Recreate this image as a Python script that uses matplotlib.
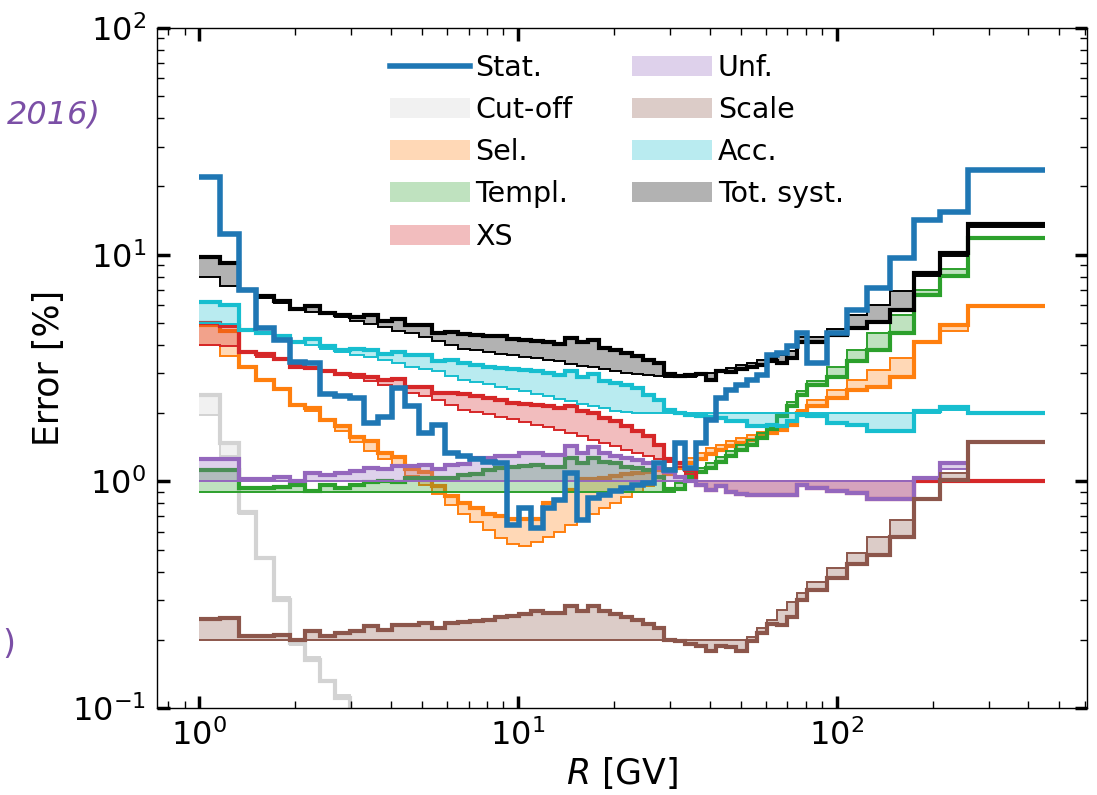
import matplotlib
matplotlib.use("Agg")
import matplotlib.pyplot as plt
from matplotlib.lines import Line2D
from matplotlib.patches import Patch
import numpy as np

# rigidity bin edges [GV]
edges = [1.00, 1.16, 1.33, 1.51, 1.71, 1.92, 2.15, 2.40, 2.67, 2.97, 3.29, 3.64,
         4.02, 4.43, 4.88, 5.37, 5.90, 6.47, 7.09, 7.76, 8.48, 9.26, 10.1, 11.0,
         12.0, 13.0, 14.1, 15.3, 16.6, 18.0, 19.5, 21.1, 22.8, 24.7, 26.7, 28.8,
         31.1, 33.5, 36.1, 38.9, 41.9, 45.1, 48.5, 52.2, 56.1, 60.3, 64.8, 69.7,
         74.9, 80.5, 93.0, 108, 125, 147, 175, 211, 259, 450]

stat = [22.1, 12.4, 7.0, 4.76, 4.22, 3.37, 3.34, 2.44, 2.39, 2.34,
        1.81, 1.93, 2.59, 2.14, 1.64, 1.78, 1.34, 1.29, 1.25, 1.22,
        1.21, 0.644, 0.763, 0.623, 0.763, 0.83, 1.09, 0.678, 0.845, 0.874,
        0.904, 0.935, 0.967, 0.98, 1.21, 1.12, 1.48, 1.15, 1.48, 1.87,
        2.33, 2.54, 2.67, 2.81, 2.95, 3.6, 3.68, 3.94, 4.51, 3.33,
        4.51, 5.72, 7.13, 9.67, 14.3, 15.5, 23.7]

# Cut-off: only the lowest bins are above 0.1 %
cutoff_a = [2.41, 1.47, 0.73, 0.46, 0.30, 0.194, 0.163, 0.132, 0.111, 0.08]
cutoff_b = [1.97, 1.30, 0.72, 0.46, 0.31, 0.19, 0.168, 0.13, 0.114, 0.08]

sel_a = [4.9, 4.62, 3.21, 2.81, 2.56, 2.18, 2.11, 1.87, 1.75, 1.57,
         1.5, 1.33, 1.28, 1.13, 1.1, 0.95, 0.86, 0.80, 0.76, 0.72,
         0.70, 0.68, 0.68, 0.68, 0.80, 0.83, 0.92, 1.02, 1.02, 1.03,
         1.06, 1.08, 1.09, 1.10, 1.12, 1.08, 1.14, 1.2, 1.26, 1.32,
         1.38, 1.43, 1.48, 1.53, 1.58, 1.64, 1.69, 1.78, 2.0, 2.14,
         2.33, 2.54, 2.6, 2.9, 4.1, 4.9, 5.96]
sel_b = [4.0, 3.56, 3.16, 2.78, 2.52, 2.15, 2.04, 1.84, 1.66, 1.49,
         1.36, 1.26, 1.18, 1.06, 0.96, 0.88, 0.79, 0.72, 0.66, 0.61,
         0.56, 0.53, 0.52, 0.54, 0.57, 0.60, 0.64, 0.68, 0.72, 0.76,
         0.80, 0.85, 0.90, 0.95, 1.0, 1.15, 1.2, 1.27, 1.33, 1.4,
         1.45, 1.5, 1.55, 1.6, 1.65, 1.7, 1.75, 1.85, 2.07, 2.29,
         2.54, 2.81, 3.11, 3.5, 4.1, 4.6, 5.9]

templ_a = [1.12, 1.12, 0.935, 0.935, 0.94, 0.96, 0.905, 0.96, 0.935, 0.96,
           0.99, 1.0, 0.99, 1.03, 1.04, 1.04, 1.03, 1.07, 1.08, 1.12,
           1.14, 1.16, 1.17, 1.18, 1.16, 1.16, 1.27, 1.2, 1.27, 1.22,
           1.2, 1.16, 1.14, 1.12, 1.05, 0.93, 0.93, 1.05, 1.1, 1.15,
           1.22, 1.3, 1.37, 1.45, 1.55, 1.7, 1.95, 2.15, 2.4, 2.67,
           2.90, 3.38, 3.81, 4.51, 6.65, 8.08, 11.9]
templ_b = [0.9, 0.9, 0.9, 0.9, 0.9, 0.9, 0.9, 0.9, 0.9, 0.9,
           0.9, 0.9, 0.9, 0.9, 0.9, 0.9, 0.9, 0.9, 0.9, 0.9,
           0.9, 0.9, 0.9, 0.9, 0.9, 0.9, 0.9, 0.9, 0.9, 0.9,
           0.9, 0.9, 0.9, 0.9, 0.9, 0.9, 0.98, 1.1, 1.15, 1.2,
           1.28, 1.36, 1.44, 1.53, 1.63, 1.8, 2.0, 2.25, 2.5, 2.76,
           3.21, 3.81, 4.51, 5.44, 7.0, 8.65, 11.7]

xs_a = [5.0, 4.83, 3.74, 3.66, 3.47, 3.21, 3.16, 3.06, 2.99, 2.96,
        2.9, 2.81, 2.83, 2.62, 2.62, 2.45, 2.45, 2.42, 2.38, 2.33,
        2.28, 2.22, 2.2, 2.17, 2.14, 2.1, 2.14, 2.04, 2.0, 1.9,
        1.84, 1.75, 1.66, 1.58, 1.45, 1.25, 1.2, 1.12, 0.96, 0.92,
        0.95, 0.9, 0.88, 0.87, 0.87, 0.87, 0.874, 0.874, 0.967, 0.935,
        0.904, 0.89, 0.837, 0.837, 1.0, 1.0, 1.0]
xs_b = [4.0, 3.94, 3.7, 3.55, 3.42, 3.3, 3.2, 3.1, 3.0, 2.86,
        2.76, 2.67, 2.56, 2.45, 2.37, 2.29, 2.17, 2.07, 2.03, 1.98,
        1.93, 1.88, 1.83, 1.78, 1.73, 1.68, 1.63, 1.58, 1.53, 1.48,
        1.43, 1.38, 1.34, 1.3, 1.26, 1.22, 1.16, 1.08, 1.0, 1.0,
        1.0, 1.0, 1.0, 1.0, 1.0, 1.0, 1.0, 1.0, 1.0, 1.0,
        1.0, 1.0, 1.0, 1.0, 1.0, 1.0, 1.0]

# Unf. stops one bin before the last edge
unf_a = [1.25, 1.26, 1.025, 1.025, 1.05, 1.0, 1.09, 1.07, 1.09, 1.11,
         1.15, 1.13, 1.165, 1.17, 1.185, 1.13, 1.185, 1.19, 1.27, 1.27,
         1.3, 1.3, 1.33, 1.33, 1.31, 1.31, 1.43, 1.33, 1.42, 1.33,
         1.3, 1.27, 1.24, 1.2, 1.15, 1.1, 1.05, 1.0, 0.96, 0.92,
         0.95, 0.9, 0.88, 0.87, 0.87, 0.87, 0.874, 0.874, 0.967, 0.935,
         0.904, 0.89, 0.837, 0.837, 1.04, 1.21]
unf_b = [1.0, 1.0, 1.0, 1.0, 1.0, 1.0, 1.0, 1.0, 1.0, 1.0,
         1.0, 1.0, 1.0, 1.0, 1.0, 1.0, 1.0, 1.0, 1.0, 1.0,
         1.0, 1.0, 1.0, 1.0, 1.0, 1.0, 1.0, 1.0, 1.0, 1.0,
         1.0, 1.0, 1.0, 1.0, 1.0, 1.0, 1.0, 1.0, 1.0, 1.0,
         1.0, 1.0, 1.0, 1.0, 1.0, 1.0, 1.0, 1.0, 1.0, 1.0,
         1.0, 1.0, 1.0, 1.0, 1.04, 1.13]

scale_a = [0.248, 0.25, 0.207, 0.207, 0.21, 0.2, 0.218, 0.207, 0.215, 0.218,
           0.229, 0.22, 0.232, 0.232, 0.237, 0.225, 0.237, 0.24, 0.241, 0.245,
           0.252, 0.255, 0.26, 0.267, 0.262, 0.262, 0.281, 0.267, 0.282, 0.267,
           0.26, 0.252, 0.245, 0.236, 0.226, 0.2, 0.197, 0.191, 0.188, 0.178,
           0.188, 0.185, 0.178, 0.197, 0.215, 0.235, 0.233, 0.253, 0.30, 0.333,
           0.376, 0.43, 0.475, 0.57, 0.838, 1.017, 1.49]
scale_b = [0.2, 0.2, 0.2, 0.2, 0.2, 0.2, 0.2, 0.2, 0.2, 0.2,
           0.2, 0.2, 0.2, 0.2, 0.2, 0.2, 0.2, 0.2, 0.2, 0.2,
           0.2, 0.2, 0.2, 0.2, 0.2, 0.2, 0.2, 0.2, 0.2, 0.2,
           0.2, 0.2, 0.2, 0.2, 0.2, 0.2, 0.2, 0.2, 0.2, 0.2,
           0.2, 0.2, 0.2, 0.205, 0.225, 0.245, 0.27, 0.295, 0.323, 0.358,
           0.416, 0.484, 0.57, 0.678, 0.838, 1.09, 1.49]

acc_a = [6.16, 6.0, 4.67, 4.51, 4.36, 4.10, 4.24, 3.94, 3.81, 3.84,
         3.81, 3.66, 3.74, 3.6, 3.6, 3.38, 3.44, 3.33, 3.27, 3.21,
         3.16, 3.12, 3.09, 3.06, 3.0, 2.96, 3.06, 2.9, 2.99, 2.77,
         2.72, 2.67, 2.58, 2.41, 2.29, 2.07, 2.0, 1.97, 1.94, 1.92,
         1.9, 1.84, 1.84, 1.75, 1.75, 1.77, 1.75, 1.84, 1.97, 1.94,
         1.81, 1.78, 1.66, 1.66, 2.04, 2.13, 2.0]
acc_b = [5.0, 4.95, 4.67, 4.45, 4.3, 4.1, 4.0, 3.85, 3.72, 3.62,
         3.52, 3.44, 3.32, 3.21, 3.13, 3.06, 2.93, 2.81, 2.75, 2.69,
         2.62, 2.56, 2.5, 2.44, 2.38, 2.32, 2.26, 2.2, 2.15, 2.1,
         2.05, 2.02, 2.0, 2.0, 2.0, 2.0, 2.0, 2.0, 2.0, 2.0,
         2.0, 2.0, 2.0, 2.0, 2.0, 2.0, 2.0, 2.0, 2.0, 2.0,
         2.0, 2.0, 2.0, 2.0, 2.0, 2.06, 2.0]

tot_a = [9.77, 9.19, 7.01, 6.59, 6.22, 5.76, 5.96, 5.53, 5.44, 5.29,
         5.40, 5.08, 5.2, 4.91, 4.88, 4.51, 4.58, 4.48, 4.44, 4.36,
         4.36, 4.25, 4.22, 4.15, 4.1, 4.05, 4.29, 4.1, 4.22, 3.88,
         3.81, 3.68, 3.58, 3.44, 3.33, 2.99, 2.93, 2.96, 2.99, 2.79,
         3.06, 3.03, 3.12, 3.2, 3.27, 3.38, 3.33, 3.50, 4.10, 4.10,
         4.44, 4.75, 5.03, 5.72, 8.3, 10.2, 13.7]
tot_b = [8.0, 7.3, 6.9, 6.45, 6.1, 5.75, 5.6, 5.45, 5.3, 5.1,
         4.95, 4.8, 4.6, 4.5, 4.35, 4.15, 4.0, 3.85, 3.78, 3.72,
         3.66, 3.6, 3.55, 3.5, 3.44, 3.38, 3.3, 3.24, 3.18, 3.12,
         3.07, 3.02, 2.98, 2.95, 2.92, 2.9, 2.88, 2.9, 2.95, 3.02,
         3.1, 3.17, 3.25, 3.33, 3.42, 3.5, 3.6, 3.75, 4.35, 4.35,
         4.7, 5.44, 5.97, 6.89, 8.02, 9.83, 13.2]

labels = ["Stat.", "Cut-off", "Sel.", "Templ.", "XS",
          "Unf.", "Scale", "Acc.", "Tot. syst."]

plt.rcParams['font.family'] = ['DejaVu Sans']
plt.rcParams['mathtext.fontset'] = 'dejavusans'

fig = plt.figure(figsize=(10.97, 7.95), dpi=100)
ax = fig.add_axes([0.1431, 0.1094, 0.8478, 0.8553])

LW_A = 3.0
LW_B = 1.4
LW_STAT = 4.0


def band(vals_a, vals_b, e, color):
    ax.stairs(vals_a, e, baseline=vals_b, fill=True, color=color, alpha=0.3,
              linewidth=0)
    ax.stairs(vals_b, e, baseline=None, color=color, lw=LW_B)
    ax.stairs(vals_a, e, baseline=None, color=color, lw=LW_A)


band(cutoff_a, cutoff_b, edges[:len(cutoff_a) + 1], 'lightgray')
band(sel_a, sel_b, edges, 'tab:orange')
band(templ_a, templ_b, edges, 'tab:green')
band(xs_a, xs_b, edges, 'tab:red')
band(unf_a, unf_b, edges[:len(unf_a) + 1], 'tab:purple')
band(scale_a, scale_b, edges, 'tab:brown')
band(acc_a, acc_b, edges, 'tab:cyan')
band(tot_a, tot_b, edges, 'black')
ax.stairs(stat, edges, baseline=None, color='tab:blue', lw=LW_STAT)

ax.set_xscale('log')
ax.set_yscale('log')
ax.set_ylim(0.1, 100)

ax.set_xlabel(r"$R$ [GV]", fontsize=25, labelpad=2)
ax.set_ylabel("Error [%]", fontsize=25, labelpad=4)
ax.tick_params(which='both', direction='in', top=True, right=True,
               labelsize=23, pad=8)
ax.tick_params(which='major', length=9, width=2.5)
ax.tick_params(which='minor', length=5, width=1.0)
for s in ax.spines.values():
    s.set_linewidth(1.0)

colors = ['tab:blue', 'lightgray', 'tab:orange', 'tab:green', 'tab:red',
          'tab:purple', 'tab:brown', 'tab:cyan', 'black']
handles = [Line2D([], [], color=colors[0], lw=LW_STAT)]
handles += [Patch(facecolor=c, alpha=0.3, edgecolor='none') for c in colors[1:]]
ax.legend(handles, labels, ncol=2, loc='upper left', bbox_to_anchor=(0.223, 1.0),
          frameon=False, fontsize=20.5, handlelength=2.8, handletextpad=0.2,
          columnspacing=2.1)

# fragments of slide text at the left edge
fig.text(0.092, 0.855, "2016)", ha='right', va='center', fontsize=23,
         style='italic', color='#7b4fa6')
fig.text(0.002, 0.189, ")", ha='left', va='center', fontsize=24,
         color='#7b4fa6')

fig.savefig("out.png", dpi=100)
